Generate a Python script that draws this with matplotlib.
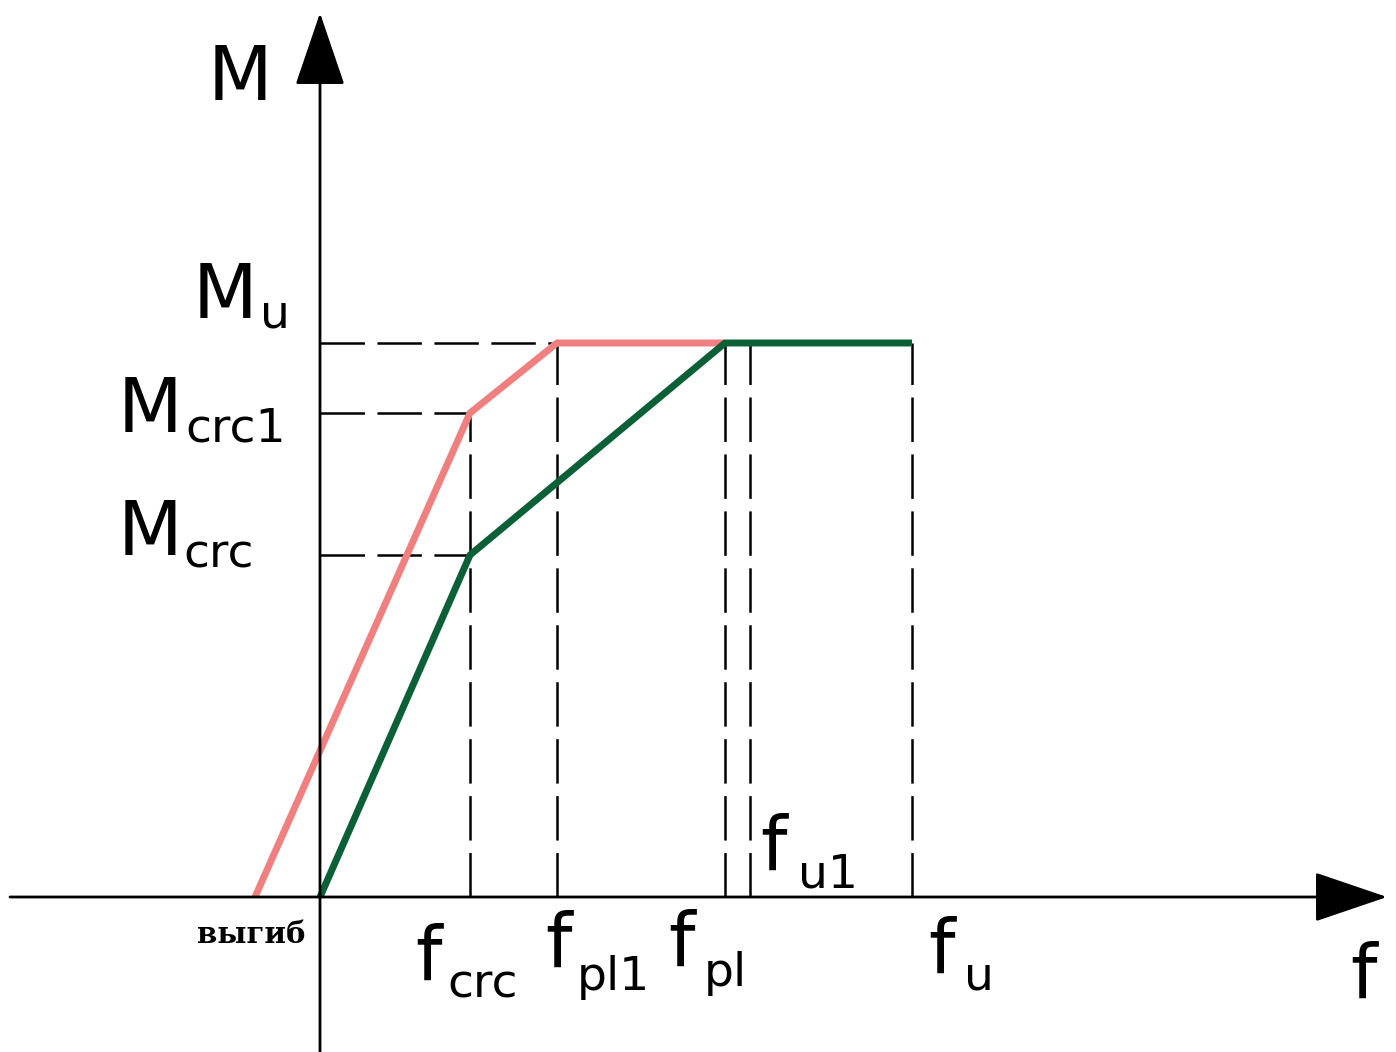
import matplotlib.pyplot as plt

plt.rcParams['font.family'] = ['DejaVu Sans']
plt.rcParams['lines.scale_dashes'] = False

# characteristic deflections (f) and moments (M), picture units
f_crc, f_pl1, f_pl, f_u1, f_u = 150, 237, 405, 430, 592
M_crc, M_crc1, M_u = 342, 484, 554

# pink curve (with initial camber) and green curve
pink_f = [-65, f_crc, f_pl1, f_pl]
pink_M = [0, M_crc1, M_u, M_u]
green_f = [0, f_crc, f_pl, f_u]
green_M = [0, M_crc, M_u, M_u]

fig = plt.figure(figsize=(13.96, 10.52), dpi=100)
ax = fig.add_axes([0, 0, 1, 1])
ax.set_xlim(-320, 1076)
ax.set_ylim(-155, 897)
ax.axis('off')

# axes with arrows
arrow = dict(arrowstyle='-|>,head_length=0.47,head_width=0.16', color='black',
             lw=2.0, shrinkA=0, shrinkB=0, mutation_scale=100)
ax.annotate('', xy=(0, 884), xytext=(0, -155), arrowprops=arrow)
ax.annotate('', xy=(1067, 0), xytext=(-310, 0), arrowprops=arrow)

# dashed guide lines
dash = dict(color='black', lw=1.8, linestyle=(0, (32, 9)))
ax.plot([0, f_pl1], [M_u, M_u], **dash)
ax.plot([0, f_crc], [M_crc1, M_crc1], **dash)
ax.plot([0, f_crc], [M_crc, M_crc], **dash)
ax.plot([f_crc, f_crc], [0, M_crc1], **dash)
for fv in [f_pl1, f_pl, f_u1, f_u]:
    ax.plot([fv, fv], [0, M_u], **dash)

# curves
ax.plot(pink_f, pink_M, color='#F08080', lw=5, solid_capstyle='butt')
ax.plot(green_f, green_M, color='#0B6038', lw=5, solid_capstyle='butt')

big = 54
small = 34

def lab(x, y, main, sub, dx, dy):
    ax.text(x, y, main, fontsize=big, ha='left', va='baseline')
    if sub:
        ax.text(x + dx, y + dy, sub, fontsize=small, ha='left', va='baseline')

# vertical axis labels
ax.text(-112, 797, 'M', fontsize=big, ha='left', va='baseline')
lab(-127, 579, 'M', 'u', 67, -10)
lab(-202, 465, 'M', 'crc1', 67, -10)
lab(-202, 342, 'M', 'crc', 65, -12)

# horizontal axis labels
lab(95, -83, 'f', 'crc', 32, -17)
lab(225, -70, 'f', 'pl1', 32, -23)
lab(348, -69, 'f', 'pl', 36, -20)
lab(440, 27, 'f', 'u1', 38, -18)
lab(608, -76, 'f', 'u', 36, -17)
ax.text(1030, -101, 'f', fontsize=big, ha='left', va='baseline')

ax.text(-15, -46, 'выгиб', fontsize=21, family='DejaVu Serif',
        fontweight='bold', ha='right', va='baseline')

fig.savefig('out.png', dpi=100)
